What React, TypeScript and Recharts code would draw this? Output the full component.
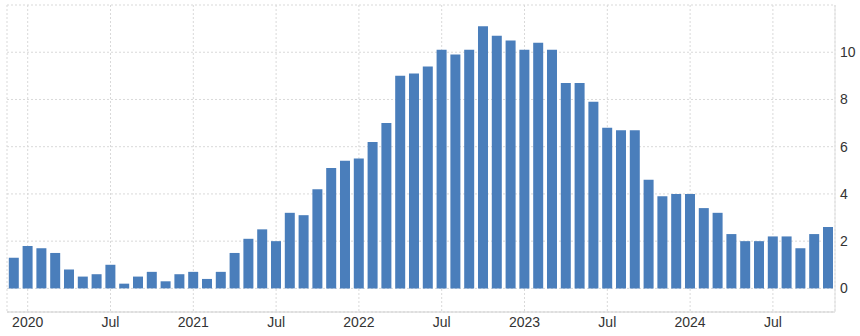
import { BarChart, Bar, XAxis, YAxis, CartesianGrid } from 'recharts';

const months = [
  '2019-12',
  '2020-01', '2020-02', '2020-03', '2020-04', '2020-05', '2020-06', '2020-07', '2020-08', '2020-09', '2020-10', '2020-11', '2020-12',
  '2021-01', '2021-02', '2021-03', '2021-04', '2021-05', '2021-06', '2021-07', '2021-08', '2021-09', '2021-10', '2021-11', '2021-12',
  '2022-01', '2022-02', '2022-03', '2022-04', '2022-05', '2022-06', '2022-07', '2022-08', '2022-09', '2022-10', '2022-11', '2022-12',
  '2023-01', '2023-02', '2023-03', '2023-04', '2023-05', '2023-06', '2023-07', '2023-08', '2023-09', '2023-10', '2023-11', '2023-12',
  '2024-01', '2024-02', '2024-03', '2024-04', '2024-05', '2024-06', '2024-07', '2024-08', '2024-09', '2024-10', '2024-11',
];

const inflation = [
  1.3,
  1.8, 1.7, 1.5, 0.8, 0.5, 0.6, 1.0, 0.2, 0.5, 0.7, 0.3, 0.6,
  0.7, 0.4, 0.7, 1.5, 2.1, 2.5, 2.0, 3.2, 3.1, 4.2, 5.1, 5.4,
  5.5, 6.2, 7.0, 9.0, 9.1, 9.4, 10.1, 9.9, 10.1, 11.1, 10.7, 10.5,
  10.1, 10.4, 10.1, 8.7, 8.7, 7.9, 6.8, 6.7, 6.7, 4.6, 3.9, 4.0,
  4.0, 3.4, 3.2, 2.3, 2.0, 2.0, 2.2, 2.2, 1.7, 2.3, 2.6,
];

const xTicks = ['2020-01', '2020-07', '2021-01', '2021-07', '2022-01', '2022-07', '2023-01', '2023-07', '2024-01', '2024-07'];
const xTickLabels = ['2020', 'Jul', '2021', 'Jul', '2022', 'Jul', '2023', 'Jul', '2024', 'Jul'];
const yTicks = [0, 2, 4, 6, 8, 10, 12];

const data = months.map((m, i) => ({ month: m, value: inflation[i] }));

const tickStyle = { fill: '#333', fontSize: 14, fontFamily: '"Liberation Sans", Arial, sans-serif' };

export default function App() {
  return (
    <div style={{ width: 860, height: 336, background: '#fff' }}>
      <style>{'body { margin: 0; overflow: hidden; }'}</style>
      <BarChart
        width={860}
        height={336}
        data={data}
        margin={{ top: 5, right: 0, left: 7, bottom: 0 }}
        barCategoryGap="13%"
        style={{ overflow: 'visible' }}
      >
        <CartesianGrid stroke="#d9d9d9" strokeDasharray="2 2" />
        <XAxis
          dataKey="month"
          ticks={xTicks}
          interval={0}
          tickFormatter={(v: string) => xTickLabels[xTicks.indexOf(v)] ?? ''}
          tick={tickStyle}
          tickLine={false}
          tickSize={0}
          tickMargin={5}
          height={24}
          axisLine={{ stroke: '#d0d0d0' }}
        />
        <YAxis
          yAxisId="left"
          orientation="left"
          width={0}
          tick={false}
          tickLine={false}
          axisLine={{ stroke: '#e0e0e0' }}
          domain={[-1, 12]}
        />
        <YAxis
          orientation="right"
          domain={[-1, 12]}
          ticks={yTicks}
          interval={0}
          tickFormatter={(v: number) => (v === 12 ? '' : String(v))}
          tick={tickStyle}
          tickLine={false}
          tickSize={0}
          tickMargin={5}
          width={25}
          axisLine={{ stroke: '#e0e0e0' }}
          allowDataOverflow
        />
        <Bar dataKey="value" fill="#4a7ebb" isAnimationActive={false} />
      </BarChart>
    </div>
  );
}
